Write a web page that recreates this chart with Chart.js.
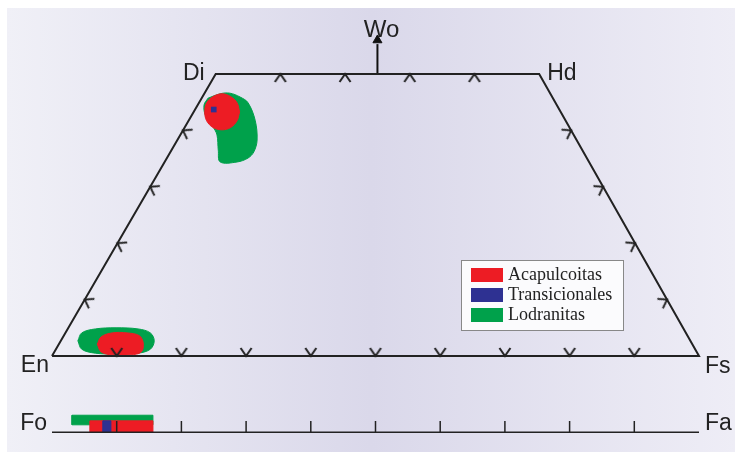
<!DOCTYPE html>
<html>
<head>
<meta charset="utf-8">
<script src="https://cdn.jsdelivr.net/npm/chart.js@4.4.1/dist/chart.umd.min.js"></script>
<style>
  html, body { margin: 0; padding: 0; background: #fff; }
  #wrap { width: 735px; height: 459px; }
</style>
</head>
<body>
<div id="wrap"><canvas id="quadChart" width="735" height="459"></canvas></div>
<script>
// Cuadrilátero de piroxenos: x = Fs + 0.506*Wo (%), y = Wo (%)
const quadCorners = [[0, 0], [25.3, 50], [75.3, 50], [100, 0], [0, 0]]; // En, Di, Hd, Fs
const cornerNames = ['En', 'Di', 'Hd', 'Fs'];
const skew = 0.506;

const seriesNames = ['Acapulcoitas', 'Transicionales', 'Lodranitas'];
const seriesColors = ['#ed1c24', '#2e3192', '#00a14b'];

const lodDiField = [[24.1, 45.7], [26.0, 46.5], [27.5, 46.6], [29.1, 45.9], [30.3, 44.9], [31.4, 41.8],
  [31.7, 38.3], [31.2, 36.2], [30.3, 35.1], [28.6, 34.4], [26.0, 34.4], [25.7, 36.5], [25.5, 39.2],
  [24.9, 40.6], [23.7, 42.7], [23.5, 44.5]];
const acaDiField = [[29.0, 43.3], [28.6, 44.9], [27.6, 46.0], [26.3, 46.5], [24.9, 46.0], [23.9, 44.9],
  [23.6, 43.3], [23.9, 41.7], [24.9, 40.5], [26.3, 40.1], [27.6, 40.5], [28.6, 41.7]];
const transDi = [[25.0, 43.7]];
const lodEnField = [[4.0, 2.7], [4.6, 4.1], [6.7, 4.8], [9.9, 5.0], [13.3, 4.8], [15.2, 4.1], [15.8, 2.7],
  [15.2, 1.2], [13.3, 0.5], [9.9, 0.35], [6.7, 0.5], [4.6, 1.2]];
const acaEnField = [[7.0, 2.1], [7.6, 3.4], [9.3, 4.1], [11.6, 4.1], [13.5, 3.6], [14.1, 2.3], [13.8, 0.7],
  [12.1, 0.2], [9.3, 0.2], [7.6, 0.7]];

// olivino: rangos de Fa (%)
const lodFa = [3.1, 15.6];
const acaFa = [5.9, 15.6];
const transFa = [7.9, 9.1];

// marcas de escala
const baseTicks = [10, 20, 30, 40, 50, 60, 70, 80, 90];   // Fs en Wo = 0
const topTicks = [10, 20, 30, 40];                         // Fs en Wo = 50
const sideTicks = [10, 20, 30, 40];                        // Wo en los lados
const faTicks = [10, 20, 30, 40, 50, 60, 70, 80, 90];

// posición de la banda de olivino bajo el cuadrilátero
const olivineY = -13.5;
const bandLow = [-13.5, -11.5];
const bandHigh = [-12.2, -10.5];

const ink = '#222';

function pts(list) {
  return list.map(p => ({ x: p[0], y: p[1] }));
}
function rect(range, band) {
  return [[range[0], band[0]], [range[1], band[0]], [range[1], band[1]], [range[0], band[1]], [range[0], band[0]]];
}
function field(list, color, order, tension) {
  return {
    data: pts(list.concat([list[0]])),
    showLine: true, fill: 'shape', tension: tension,
    backgroundColor: color, borderColor: color, borderWidth: 1,
    pointRadius: 0, order: order
  };
}

// chevron marks (apex in the centre of the image)
const chevron = document.createElement('canvas');
chevron.width = 20; chevron.height = 20;
(function () {
  const c = chevron.getContext('2d');
  c.strokeStyle = ink;
  c.lineWidth = 2;
  c.lineJoin = 'miter';
  c.beginPath();
  c.moveTo(4.5, 2); c.lineTo(10, 10); c.lineTo(15.5, 2);
  c.stroke();
})();

const chevData = [];
const chevRot = [];
baseTicks.forEach(v => { chevData.push({ x: v, y: 0 }); chevRot.push(0); });
topTicks.forEach(v => { chevData.push({ x: v + 50 * skew, y: 50 }); chevRot.push(180); });
sideTicks.forEach(v => { chevData.push({ x: v * skew, y: v }); chevRot.push(120); });
sideTicks.forEach(v => { chevData.push({ x: 100 - v + v * skew, y: v }); chevRot.push(-120); });

const backgroundPanel = {
  id: 'backgroundPanel',
  beforeDraw(chart) {
    const ctx = chart.ctx;
    ctx.save();
    ctx.fillStyle = '#fff';
    ctx.fillRect(0, 0, chart.width, chart.height);
    const g = ctx.createLinearGradient(7, 0, chart.width, 0);
    g.addColorStop(0, '#f0f0f7');
    g.addColorStop(0.5, '#dad8ea');
    g.addColorStop(1, '#eeedf6');
    ctx.fillStyle = g;
    ctx.fillRect(7, 8, chart.width - 7, 444);
    ctx.restore();
  }
};

const cornerLabels = {
  id: 'cornerLabels',
  afterDatasetsDraw(chart) {
    const ctx = chart.ctx;
    const xs = chart.scales.x, ys = chart.scales.y;
    const put = (text, x, y, dx, dy, align) => {
      ctx.textAlign = align;
      ctx.fillText(text, xs.getPixelForValue(x) + dx, ys.getPixelForValue(y) + dy);
    };
    ctx.save();
    ctx.fillStyle = ink;
    ctx.font = '23px "Liberation Sans", Arial, sans-serif';
    ctx.textBaseline = 'middle';
    put(cornerNames[0], quadCorners[0][0], quadCorners[0][1], -3, 10, 'right');
    put(cornerNames[1], quadCorners[1][0], quadCorners[1][1], -11, 0, 'right');
    put(cornerNames[2], quadCorners[2][0], quadCorners[2][1], 8, 0, 'left');
    put(cornerNames[3], quadCorners[3][0], quadCorners[3][1], 6, 11, 'left');
    put('Fo', 0, olivineY, -5, -8, 'right');
    put('Fa', 100, olivineY, 6, -8, 'left');
    ctx.font = '24px "Liberation Sans", Arial, sans-serif';
    put('Wo', 25 + 50 * skew, 56, 4, -10, 'center');
    ctx.restore();
  }
};

const boxLegend = {
  id: 'boxLegend',
  afterDraw(chart) {
    const ctx = chart.ctx;
    const left = 461, top = 260;
    ctx.save();
    ctx.fillStyle = '#fbfbfd';
    ctx.fillRect(left, top, 162, 70);
    ctx.strokeStyle = '#888';
    ctx.lineWidth = 1;
    ctx.strokeRect(left + 0.5, top + 0.5, 162, 70);
    ctx.font = '18px "Liberation Serif", "Times New Roman", serif';
    ctx.textBaseline = 'middle';
    ctx.textAlign = 'left';
    seriesNames.forEach((name, i) => {
      const y = top + 8 + i * 20;
      ctx.fillStyle = seriesColors[i];
      ctx.fillRect(left + 10, y, 32, 14);
      ctx.fillStyle = ink;
      ctx.fillText(name, left + 47, y + 7.5);
    });
    ctx.restore();
  }
};

const woX = 25 + 50 * skew;

new Chart(document.getElementById('quadChart').getContext('2d'), {
  type: 'scatter',
  data: {
    datasets: [
      { data: pts(quadCorners), showLine: true, borderColor: ink, borderWidth: 2, pointRadius: 0, order: 0 },
      { data: pts([[0, olivineY], [100, olivineY]]), showLine: true, borderColor: ink, borderWidth: 1.5, pointRadius: 0, order: 0 },
      { data: faTicks.map(v => ({ x: v, y: (bandLow[0] + bandLow[1]) / 2 })), pointStyle: 'line', pointRotation: 90,
        pointRadius: 5.5, pointBorderColor: ink, pointBorderWidth: 1.5, order: 0 },
      { data: chevData, pointStyle: chevron, pointRotation: chevRot, pointRadius: 10, order: 0 },
      { data: pts([[woX, 50], [woX, 55.3]]), showLine: true, borderColor: '#111', borderWidth: 2, pointRadius: 0, order: 0 },
      { data: pts([[woX, 56]]), pointStyle: 'triangle', pointRadius: 5.2, pointBackgroundColor: '#111',
        pointBorderColor: '#111', pointBorderWidth: 1, order: 0 },

      { data: pts(transDi), pointStyle: 'rect', pointRadius: 4, pointBackgroundColor: seriesColors[1],
        pointBorderWidth: 0, order: 1 },
      field(rect(transFa, bandLow), seriesColors[1], 1, 0),
      field(acaDiField, seriesColors[0], 2, 0.35),
      field(acaEnField, seriesColors[0], 2, 0.35),
      field(rect(acaFa, bandLow), seriesColors[0], 2, 0),
      field(lodDiField, seriesColors[2], 3, 0.35),
      field(lodEnField, seriesColors[2], 3, 0.35),
      field(rect(lodFa, bandHigh), seriesColors[2], 3, 0)
    ]
  },
  options: {
    responsive: false,
    animation: false,
    events: [],
    layout: { padding: 0, autoPadding: false },
    scales: {
      x: { type: 'linear', display: false, min: -52 / 6.47, max: (735 - 52) / 6.47 },
      y: { type: 'linear', display: false, min: -(459 - 356) / 5.64, max: 356 / 5.64 }
    },
    plugins: {
      legend: { display: false },
      tooltip: { enabled: false }
    }
  },
  plugins: [backgroundPanel, cornerLabels, boxLegend]
});
</script>
</body>
</html>
